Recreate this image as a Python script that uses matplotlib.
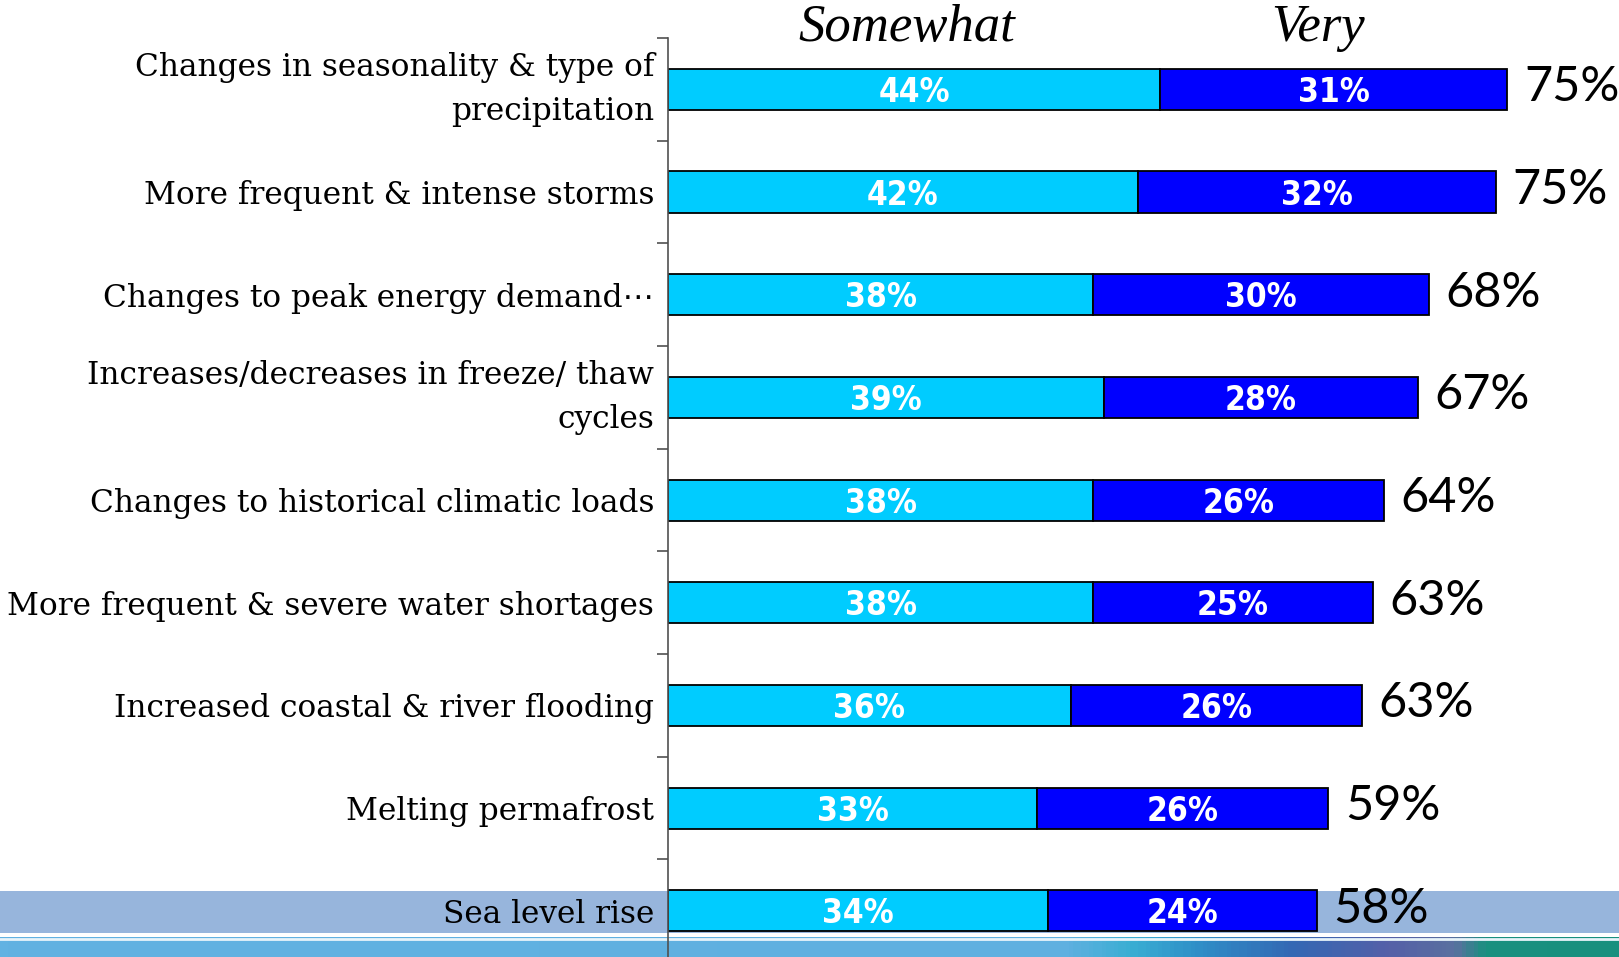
import numpy as np
import matplotlib
matplotlib.use("Agg")
import matplotlib.pyplot as plt
from matplotlib.patches import Rectangle
from matplotlib.colors import LinearSegmentedColormap

# survey data
categories = [
    "Changes in seasonality & type of\nprecipitation",
    "More frequent & intense storms",
    "Changes to peak energy demand\u22ef",
    "Increases/decreases in freeze/ thaw\ncycles",
    "Changes to historical climatic loads",
    "More frequent & severe water shortages",
    "Increased coastal & river flooding",
    "Melting permafrost",
    "Sea level rise",
]
somewhat = [44, 42, 38, 39, 38, 38, 36, 33, 34]
very = [31, 32, 30, 28, 26, 25, 26, 26, 24]
totals = [75, 75, 68, 67, 64, 63, 63, 59, 58]
headers = ["Somewhat", "Very"]

LIGHT = "#00CCFF"
DARK = "#0000FF"

fig = plt.figure(figsize=(16.19, 9.57), dpi=100)
fig.patch.set_facecolor("white")

# highlight band behind last row + decorative strip at the bottom
fig.patches.append(Rectangle((0, 1 - 933 / 957), 1, 42 / 957, transform=fig.transFigure,
                             facecolor="#97B5DC", edgecolor="none", zorder=0))
strip = fig.add_axes([0, 0, 1, 20 / 957], zorder=0)
strip_cmap = LinearSegmentedColormap.from_list("strip", [
    (0.0, "#62B2E2"), (0.66, "#5FB0E0"), (0.70, "#3AAED3"), (0.74, "#2F8FC8"),
    (0.80, "#3468B4"), (0.86, "#5560A8"), (0.90, "#5A70A0"), (0.92, "#1A9080"), (1.0, "#18907E")])
strip.imshow(np.linspace(0, 1, 400)[np.newaxis, :], cmap=strip_cmap, aspect="auto", extent=(0, 1, 0, 1))
strip.axhline(0.92, color="#E8F4FA", linewidth=2)
strip.axis("off")

ax = fig.add_axes([668 / 1619, 0, 951 / 1619, 919 / 957], zorder=2)
ax.patch.set_visible(False)

y = np.arange(len(categories))
ax.barh(y, somewhat, height=0.4, color=LIGHT, edgecolor="black", linewidth=1.3)
ax.barh(y, very, left=somewhat, height=0.4, color=DARK, edgecolor="black", linewidth=1.3)

ax.set_xlim(0, 85)
ax.set_ylim(8.45, -0.5)

for spine in ["top", "right", "bottom"]:
    ax.spines[spine].set_visible(False)
ax.spines["left"].set_color("#505050")
ax.spines["left"].set_linewidth(1.2)
ax.set_xticks([])

ax.set_yticks(y)
ax.set_yticklabels(categories, family=["DejaVu Serif", "DejaVu Sans"], fontsize=22.5,
                   linespacing=1.57)
# two-line labels sit centred on their bar
for lab in ax.get_yticklabels():
    if "\n" in lab.get_text():
        lab.set_verticalalignment("center")
ax.tick_params(axis="y", which="major", length=0, pad=10)
ax.set_yticks(np.arange(len(categories)) - 0.5, minor=True)
ax.tick_params(axis="y", which="minor", length=8, width=1.2, color="#505050", direction="out")

# segment labels + totals
for i in range(len(categories)):
    ax.text(somewhat[i] / 2, i + 0.03, f"{somewhat[i]}%", ha="center", va="center",
            color="white", fontsize=24, fontweight="bold", family="DejaVu Sans", stretch="condensed")
    ax.text(somewhat[i] + very[i] / 2, i + 0.03, f"{very[i]}%", ha="center", va="center",
            color="white", fontsize=24, fontweight="bold", family="DejaVu Sans", stretch="condensed")
    ax.text(somewhat[i] + very[i] + 1.5, i - 0.02, f"{totals[i]}%", ha="left", va="center",
            color="black", fontsize=35, family="Lato")

# column headers
ax.text(21.3, 0.9967, headers[0], transform=ax.get_xaxis_transform(), ha="center", va="baseline",
        fontsize=38, style="italic", family="Liberation Serif")
ax.text(58.1, 0.9967, headers[1], transform=ax.get_xaxis_transform(), ha="center", va="baseline",
        fontsize=38, style="italic", family="Liberation Serif")

plt.savefig("out.png", dpi=100)
